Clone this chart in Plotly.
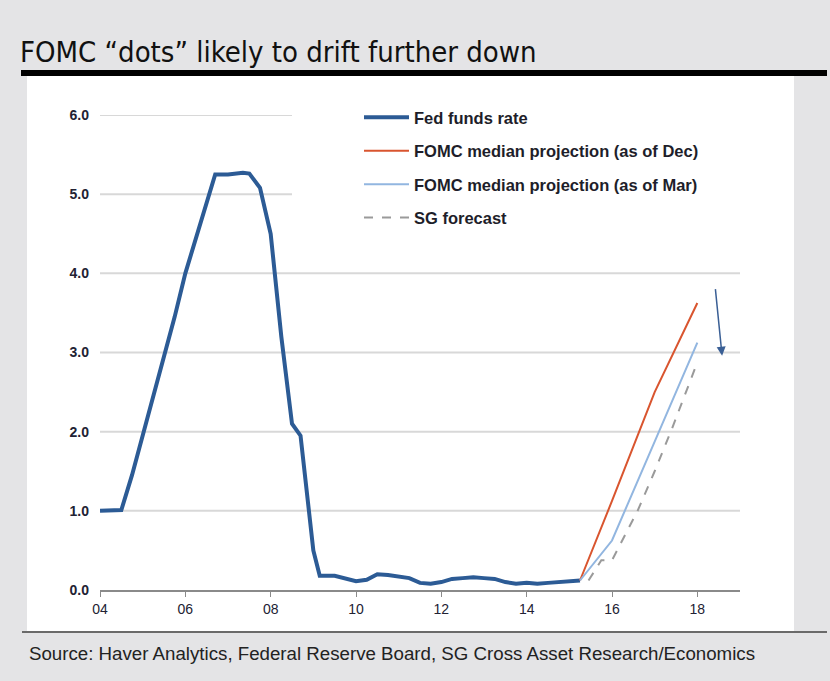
import plotly.graph_objects as go

# ---- data ----
ff_x = [2004.0, 2004.5, 2004.75, 2005.0, 2005.25, 2005.5, 2005.75, 2006.0, 2006.25, 2006.5,
        2006.7, 2007.0, 2007.35, 2007.5, 2007.75, 2008.0, 2008.25, 2008.5, 2008.7, 2009.0,
        2009.15, 2009.5, 2009.75, 2010.0, 2010.25, 2010.5, 2010.75, 2011.0, 2011.25, 2011.5,
        2011.75, 2012.0, 2012.25, 2012.5, 2012.75, 2013.0, 2013.25, 2013.5, 2013.75, 2014.0,
        2014.25, 2014.5, 2014.75, 2015.0, 2015.25]
ff_y = [1.00, 1.01, 1.45, 1.95, 2.45, 2.95, 3.45, 4.00, 4.45, 4.93,
        5.25, 5.25, 5.27, 5.26, 5.08, 4.50, 3.20, 2.10, 1.95, 0.50,
        0.18, 0.18, 0.15, 0.11, 0.13, 0.20, 0.19, 0.17, 0.15, 0.09,
        0.08, 0.10, 0.14, 0.15, 0.16, 0.15, 0.14, 0.10, 0.08, 0.09,
        0.08, 0.09, 0.10, 0.11, 0.12]

dec_x = [2015.25, 2016.0, 2017.0, 2018.0]
dec_y = [0.12, 1.125, 2.5, 3.625]

mar_x = [2015.25, 2016.0, 2017.0, 2018.0]
mar_y = [0.12, 0.625, 1.875, 3.125]

sg_x = [2015.45, 2015.75, 2016.0, 2016.6, 2017.0, 2017.4, 2018.0]
sg_y = [0.12, 0.375, 0.375, 1.0, 1.5, 2.03, 2.875]

x_ticks = [2004, 2006, 2008, 2010, 2012, 2014, 2016, 2018]
x_labels = ["04", "06", "08", "10", "12", "14", "16", "18"]
y_ticks = [0, 1, 2, 3, 4, 5, 6]
y_labels = ["0.0", "1.0", "2.0", "3.0", "4.0", "5.0", "6.0"]

title = "FOMC \u201cdots\u201d likely to drift further down"
source = "Source: Haver Analytics, Federal Reserve Board, SG Cross Asset Research/Economics"

W, H = 830, 681
L, R, T, B = 100, 740, 115, 590


def px(xp):
    return (xp - L) / (R - L)


def py(yp):
    return (B - yp) / (B - T)


fig = go.Figure()
fig.add_trace(go.Scatter(x=ff_x, y=ff_y, mode="lines", name="Fed funds rate",
                         legendgroup="a", line=dict(color="#2c5b95", width=4)))
fig.add_trace(go.Scatter(x=dec_x, y=dec_y, mode="lines", name="FOMC median projection (as of Dec)",
                         legendgroup="b", line=dict(color="#d9552f", width=2)))
fig.add_trace(go.Scatter(x=mar_x, y=mar_y, mode="lines", name="FOMC median projection (as of Mar)",
                         legendgroup="c", line=dict(color="#92b6e0", width=2)))
fig.add_trace(go.Scatter(x=sg_x, y=sg_y, mode="lines", name="SG forecast",
                         legendgroup="d", line=dict(color="#9a9a9a", width=2, dash="dash")))

shapes = [
    # white panel
    dict(type="rect", xref="paper", yref="paper", x0=px(27), x1=px(794), y0=py(632), y1=py(76),
         fillcolor="white", line=dict(width=0), layer="below"),
    # black rule under title
    dict(type="rect", xref="paper", yref="paper", x0=px(21), x1=px(827), y0=py(76), y1=py(70),
         fillcolor="black", line=dict(width=0), layer="above"),
    # bottom rule
    dict(type="line", xref="paper", yref="paper", x0=px(22), x1=px(827), y0=py(632), y1=py(632),
         line=dict(color="#6a6a6a", width=2), layer="above"),
]
# horizontal gridlines (the legend area hides the upper ones on the right)
for v in y_ticks[1:]:
    x_end = px(292) if v >= 5 else 1.0
    shapes.append(dict(type="line", xref="paper", yref="y", x0=0, x1=x_end, y0=v, y1=v,
                       line=dict(color="#d8d8d8", width=2), layer="below"))

annotations = [
    dict(text=title, xref="paper", yref="paper", x=px(18), y=py(52), xanchor="left", yanchor="middle",
         showarrow=False,
         font=dict(family="DejaVu Sans Condensed, Liberation Sans Narrow, sans-serif", size=29, color="#111111")),
    dict(text=source, xref="paper", yref="paper", x=px(27), y=py(653), xanchor="left", yanchor="middle",
         showarrow=False, font=dict(family="Liberation Sans, Arial, sans-serif", size=18.7, color="#222222")),
    dict(x=2018.58, y=2.96, ax=2018.42, ay=3.82, xref="x", yref="y", axref="x", ayref="y",
         showarrow=True, arrowhead=2, arrowsize=1.2, arrowwidth=1.5, arrowcolor="#3a5f95", text=""),
]

fig.update_layout(
    width=W, height=H,
    margin=dict(l=L, r=W - R, t=T, b=H - B),
    paper_bgcolor="#e4e4e6",
    plot_bgcolor="rgba(0,0,0,0)",
    font=dict(family="Liberation Sans, Arial, sans-serif", size=14, color="#222233"),
    shapes=shapes,
    annotations=annotations,
    showlegend=True,
    legend=dict(x=px(359), y=py(100), xanchor="left", yanchor="top", xref="paper", yref="paper",
                bgcolor="rgba(0,0,0,0)", borderwidth=0, tracegroupgap=9, itemwidth=45,
                font=dict(family="Liberation Sans, Arial, sans-serif", size=16.5, color="#1e1e2a",
                          weight="bold")),
)
fig.update_xaxes(range=[2004, 2019], tickvals=x_ticks, ticktext=x_labels, showgrid=False,
                 showline=True, linecolor="#8a8a8a", linewidth=2, ticks="outside", ticklen=5,
                 tickcolor="#8a8a8a", tickfont=dict(size=14, color="#222233"), zeroline=False)
fig.update_yaxes(range=[0, 6], tickvals=y_ticks, ticktext=y_labels, showgrid=False,
                 zeroline=False, showline=False,
                 ticks="", ticklabelstandoff=10, tickfont=dict(size=14, color="#222233", weight="bold"))

fig.write_html("out.html")
